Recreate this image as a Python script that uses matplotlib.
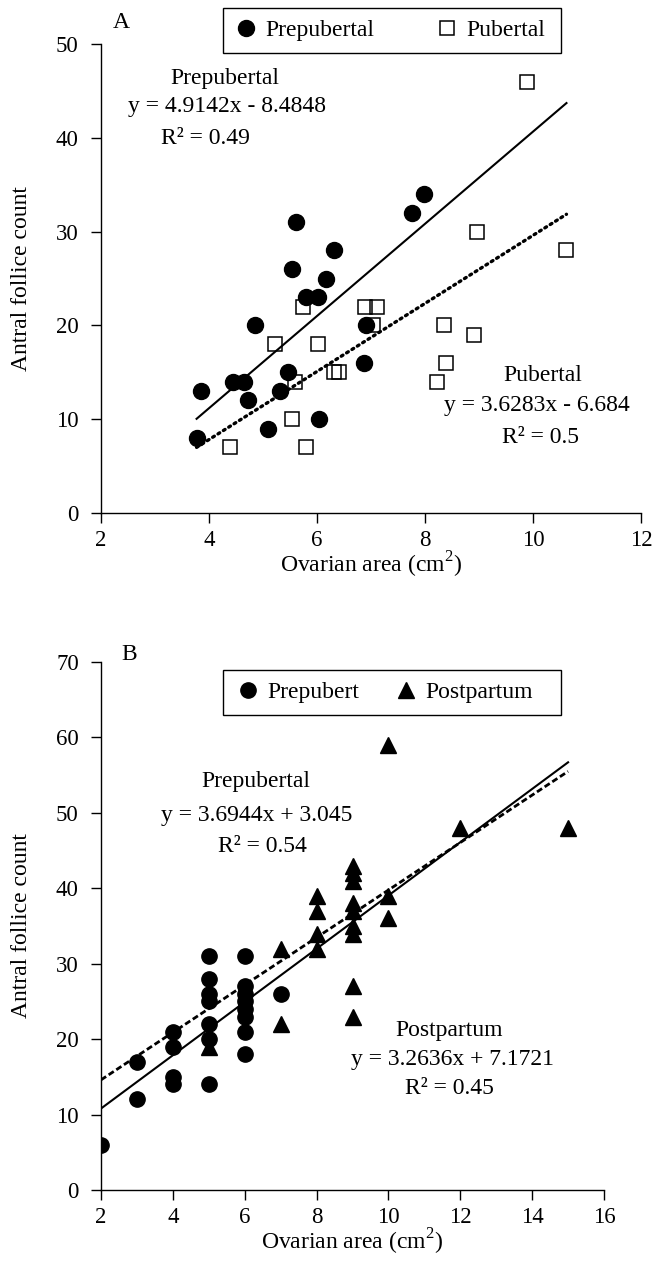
import matplotlib.pyplot as plt
from matplotlib.patches import Rectangle
import numpy as np

plt.rcParams['font.family'] = ['Liberation Serif', 'DejaVu Serif']
plt.rcParams['mathtext.fontset'] = 'custom'
plt.rcParams['mathtext.rm'] = 'Liberation Serif'

# panel A : ovarian area vs antral follicle count
a_pre_x = [3.86, 3.77, 4.44, 4.65, 4.73, 4.86, 5.10, 5.31, 5.47, 5.53,
           5.62, 5.80, 6.01, 6.03, 6.16, 6.31, 6.90, 6.87, 7.75, 7.98]
a_pre_y = [13, 8, 14, 14, 12, 20, 9, 13, 15, 26,
           31, 23, 23, 10, 25, 28, 20, 16, 32, 34]
a_pub_x = [5.74, 5.22, 6.02, 5.59, 5.53, 6.31, 6.40, 4.39, 5.80, 6.89,
           7.12, 7.04, 8.96, 10.62, 8.35, 8.91, 8.39, 8.23, 9.88]
a_pub_y = [22, 18, 18, 14, 10, 15, 15, 7, 7, 22,
           22, 20, 30, 28, 20, 19, 16, 14, 46]
a_pre_fit = (4.9142, -8.4848)
a_pub_fit = (3.6283, -6.684)
a_fit_range = [3.77, 10.62]

# panel B
b_pre_x = [2, 3, 3, 4, 4, 4, 4, 5, 5, 5, 5, 5, 5, 5,
           6, 6, 6, 6, 6, 6, 6, 6, 7]
b_pre_y = [6, 17, 12, 21, 19, 15, 14, 31, 28, 26, 25, 22, 20, 14,
           31, 27, 26, 25, 24, 23, 21, 18, 26]
b_post_x = [5, 7, 7, 8, 8, 8, 8, 9, 9, 9, 9, 9, 9, 9, 9, 9,
            10, 10, 10, 12, 15]
b_post_y = [19, 32, 22, 39, 37, 34, 32, 43, 42, 41, 38, 37, 35, 34, 27, 23,
            59, 39, 36, 48, 48]
b_fit_x = [2, 15]
b_pre_line = [10.8, 56.7]
b_post_line = [14.6, 55.5]

W, H = 661, 1266
fig = plt.figure(figsize=(W / 100, H / 100), dpi=100)


def px_axes(left, right, top, bottom):
    return fig.add_axes([left / W, 1 - bottom / H, (right - left) / W, (bottom - top) / H])


def style(ax):
    for s in ['top', 'right']:
        ax.spines[s].set_visible(False)
    for s in ['left', 'bottom']:
        ax.spines[s].set_linewidth(1.0)
    ax.tick_params(direction='out', length=7, width=1, labelsize=16.5)
    ax.tick_params(axis='y', pad=9)
    ax.tick_params(axis='x', pad=5)


def boxed_legend(ax, handles, labels, anchor, box, colsp):
    # box drawn by hand so the padding can match the original
    ax.add_patch(Rectangle(box[:2], box[2], box[3], transform=ax.transAxes,
                           facecolor='white', edgecolor='black', lw=1.0,
                           clip_on=False, zorder=6))
    leg = ax.legend(handles, labels, ncol=2, loc='center left', bbox_to_anchor=anchor,
                    fontsize=fs, frameon=False, handlelength=0.8, handletextpad=0.4,
                    borderpad=0, borderaxespad=0, columnspacing=colsp)
    leg.set_zorder(7)


fs = 17

# ---------- A ----------
axA = px_axes(101, 641, 44, 513)
style(axA)
xf = np.array(a_fit_range)
axA.plot(xf, a_pre_fit[0] * xf + a_pre_fit[1], color='black', lw=1.5, zorder=2)
axA.plot(xf, a_pub_fit[0] * xf + a_pub_fit[1], color='black', lw=2.4,
         linestyle=(0, (0.6, 1.3)), dash_capstyle='round', zorder=2)
axA.plot(a_pub_x, a_pub_y, 's', ms=10.5, mfc='none', mec='black', mew=1.1,
         label='Pubertal', zorder=3)
axA.plot(a_pre_x, a_pre_y, 'o', ms=11.5, color='black', label='Prepubertal', zorder=4)
axA.set_xlim(2, 12)
axA.set_ylim(0, 50)
axA.set_xticks(range(2, 13, 2))
axA.set_yticks(range(0, 51, 10))
axA.set_xlabel('Ovarian area (cm$^2$)', fontsize=fs)
axA.set_ylabel('Antral follice count', fontsize=fs)
axA.yaxis.set_label_coords(-0.128, 0.5)
axA.xaxis.set_label_coords(0.5, -0.078)
h, l = axA.get_legend_handles_labels()
boxed_legend(axA, [h[1], h[0]], [l[1], l[0]], (0.2511, 1.0288),
             (0.2259, 0.9808, 0.626, 0.096), 2.7)
axA.text(0.022, 1.045, 'A', transform=axA.transAxes, fontsize=fs, va='center')
axA.text(4.29, 46.3, 'Prepubertal', fontsize=fs, ha='center', va='center')
axA.text(4.33, 43.3, 'y = 4.9142x - 8.4848', fontsize=fs, ha='center', va='center')
axA.text(3.94, 39.9, 'R² = 0.49', fontsize=fs, ha='center', va='center')
axA.text(10.19, 14.7, 'Pubertal', fontsize=fs, ha='center', va='center')
axA.text(10.07, 11.5, 'y = 3.6283x - 6.684', fontsize=fs, ha='center', va='center')
axA.text(10.13, 8.1, 'R² = 0.5', fontsize=fs, ha='center', va='center')

# ---------- B ----------
axB = px_axes(101, 604, 662, 1190)
style(axB)
axB.plot(b_fit_x, b_pre_line, color='black', lw=1.5, zorder=2)
axB.plot(b_fit_x, b_post_line, color='black', lw=2.0,
         linestyle=(0, (2.2, 1.1)), zorder=2)
axB.plot(b_pre_x, b_pre_y, 'o', ms=11, color='black', label='Prepubert', zorder=3)
axB.plot(b_post_x, b_post_y, '^', ms=11, color='black', label='Postpartum', zorder=4)
axB.set_xlim(2, 16)
axB.set_ylim(0, 70)
axB.set_xticks(range(2, 17, 2))
axB.set_yticks(range(0, 71, 10))
axB.set_xlabel('Ovarian area (cm$^2$)', fontsize=fs)
axB.set_ylabel('Antral follice count', fontsize=fs)
axB.yaxis.set_label_coords(-0.137, 0.5)
axB.xaxis.set_label_coords(0.5, -0.07)
h, l = axB.get_legend_handles_labels()
boxed_legend(axB, h, l, (0.2736, 0.9422), (0.2425, 0.8996, 0.672, 0.0852), 1.6)
axB.text(0.04, 1.015, 'B', transform=axB.transAxes, fontsize=fs, va='center')
axB.text(6.31, 54.1, 'Prepubertal', fontsize=fs, ha='center', va='center')
axB.text(6.34, 49.7, 'y = 3.6944x + 3.045', fontsize=fs, ha='center', va='center')
axB.text(6.48, 45.6, 'R² = 0.54', fontsize=fs, ha='center', va='center')
axB.text(11.69, 21.2, 'Postpartum', fontsize=fs, ha='center', va='center')
axB.text(11.77, 17.3, 'y = 3.2636x + 7.1721', fontsize=fs, ha='center', va='center')
axB.text(11.7, 13.4, 'R² = 0.45', fontsize=fs, ha='center', va='center')

fig.savefig('out.png', dpi=100)
